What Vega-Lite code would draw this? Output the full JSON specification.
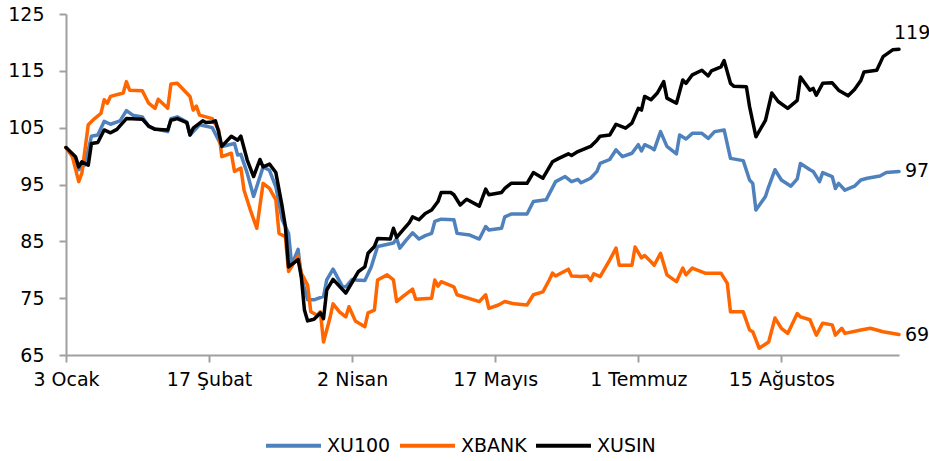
{
  "$schema": "https://vega.github.io/schema/vega-lite/v6.json",
  "width": 833,
  "height": 341,
  "autosize": {"type": "none"},
  "padding": {"left": 66, "top": 14, "right": 30, "bottom": 106},
  "background": "white",
  "config": {
    "view": {"stroke": null},
    "font": "DejaVu Sans",
    "axis": {
      "grid": false,
      "domainColor": "#a0a0a0",
      "domainWidth": 2,
      "tickColor": "#a0a0a0",
      "tickWidth": 2,
      "tickSize": 7,
      "labelFontSize": 19,
      "labelColor": "#000000",
      "labelFont": "DejaVu Sans",
      "title": null
    }
  },
  "data": {
    "values": [
      {"series":"XU100","date":"2020-01-03","value":101.5},
      {"series":"XU100","date":"2020-01-06","value":99.6},
      {"series":"XU100","date":"2020-01-07","value":97.6},
      {"series":"XU100","date":"2020-01-09","value":98.5},
      {"series":"XU100","date":"2020-01-11","value":103.5},
      {"series":"XU100","date":"2020-01-13","value":103.7},
      {"series":"XU100","date":"2020-01-15","value":106.1},
      {"series":"XU100","date":"2020-01-17","value":105.6},
      {"series":"XU100","date":"2020-01-20","value":106.2},
      {"series":"XU100","date":"2020-01-22","value":108.0},
      {"series":"XU100","date":"2020-01-24","value":107.2},
      {"series":"XU100","date":"2020-01-27","value":106.9},
      {"series":"XU100","date":"2020-01-29","value":105.2},
      {"series":"XU100","date":"2020-01-31","value":104.8},
      {"series":"XU100","date":"2020-02-04","value":104.3},
      {"series":"XU100","date":"2020-02-05","value":106.6},
      {"series":"XU100","date":"2020-02-07","value":106.9},
      {"series":"XU100","date":"2020-02-10","value":106.0},
      {"series":"XU100","date":"2020-02-11","value":103.7},
      {"series":"XU100","date":"2020-02-14","value":105.5},
      {"series":"XU100","date":"2020-02-18","value":105.0},
      {"series":"XU100","date":"2020-02-21","value":101.7},
      {"series":"XU100","date":"2020-02-25","value":102.2},
      {"series":"XU100","date":"2020-02-26","value":100.2},
      {"series":"XU100","date":"2020-02-27","value":100.3},
      {"series":"XU100","date":"2020-02-29","value":97.0},
      {"series":"XU100","date":"2020-03-02","value":92.9},
      {"series":"XU100","date":"2020-03-05","value":98.1},
      {"series":"XU100","date":"2020-03-07","value":97.5},
      {"series":"XU100","date":"2020-03-09","value":94.6},
      {"series":"XU100","date":"2020-03-11","value":88.8},
      {"series":"XU100","date":"2020-03-13","value":86.4},
      {"series":"XU100","date":"2020-03-14","value":80.8},
      {"series":"XU100","date":"2020-03-16","value":83.6},
      {"series":"XU100","date":"2020-03-17","value":78.8},
      {"series":"XU100","date":"2020-03-19","value":74.7},
      {"series":"XU100","date":"2020-03-21","value":74.7},
      {"series":"XU100","date":"2020-03-24","value":75.3},
      {"series":"XU100","date":"2020-03-25","value":78.2},
      {"series":"XU100","date":"2020-03-27","value":80.1},
      {"series":"XU100","date":"2020-03-30","value":77.0},
      {"series":"XU100","date":"2020-03-31","value":77.0},
      {"series":"XU100","date":"2020-04-02","value":78.3},
      {"series":"XU100","date":"2020-04-03","value":78.2},
      {"series":"XU100","date":"2020-04-06","value":78.1},
      {"series":"XU100","date":"2020-04-08","value":80.5},
      {"series":"XU100","date":"2020-04-10","value":84.1},
      {"series":"XU100","date":"2020-04-15","value":84.7},
      {"series":"XU100","date":"2020-04-16","value":85.5},
      {"series":"XU100","date":"2020-04-17","value":83.8},
      {"series":"XU100","date":"2020-04-19","value":85.2},
      {"series":"XU100","date":"2020-04-21","value":86.5},
      {"series":"XU100","date":"2020-04-23","value":85.4},
      {"series":"XU100","date":"2020-04-25","value":86.0},
      {"series":"XU100","date":"2020-04-27","value":86.4},
      {"series":"XU100","date":"2020-04-28","value":88.5},
      {"series":"XU100","date":"2020-04-30","value":88.9},
      {"series":"XU100","date":"2020-05-04","value":88.8},
      {"series":"XU100","date":"2020-05-05","value":86.4},
      {"series":"XU100","date":"2020-05-09","value":86.1},
      {"series":"XU100","date":"2020-05-12","value":85.4},
      {"series":"XU100","date":"2020-05-14","value":87.6},
      {"series":"XU100","date":"2020-05-15","value":87.0},
      {"series":"XU100","date":"2020-05-19","value":87.3},
      {"series":"XU100","date":"2020-05-20","value":89.3},
      {"series":"XU100","date":"2020-05-22","value":89.8},
      {"series":"XU100","date":"2020-05-27","value":89.8},
      {"series":"XU100","date":"2020-05-29","value":92.0},
      {"series":"XU100","date":"2020-06-02","value":92.3},
      {"series":"XU100","date":"2020-06-05","value":95.5},
      {"series":"XU100","date":"2020-06-08","value":96.4},
      {"series":"XU100","date":"2020-06-10","value":95.5},
      {"series":"XU100","date":"2020-06-12","value":95.9},
      {"series":"XU100","date":"2020-06-13","value":95.3},
      {"series":"XU100","date":"2020-06-16","value":96.1},
      {"series":"XU100","date":"2020-06-18","value":97.3},
      {"series":"XU100","date":"2020-06-19","value":98.7},
      {"series":"XU100","date":"2020-06-22","value":99.4},
      {"series":"XU100","date":"2020-06-24","value":101.1},
      {"series":"XU100","date":"2020-06-26","value":99.9},
      {"series":"XU100","date":"2020-06-29","value":100.5},
      {"series":"XU100","date":"2020-07-01","value":102.0},
      {"series":"XU100","date":"2020-07-02","value":100.9},
      {"series":"XU100","date":"2020-07-03","value":102.0},
      {"series":"XU100","date":"2020-07-05","value":101.5},
      {"series":"XU100","date":"2020-07-06","value":101.1},
      {"series":"XU100","date":"2020-07-08","value":104.3},
      {"series":"XU100","date":"2020-07-10","value":101.7},
      {"series":"XU100","date":"2020-07-13","value":100.4},
      {"series":"XU100","date":"2020-07-14","value":103.7},
      {"series":"XU100","date":"2020-07-16","value":103.0},
      {"series":"XU100","date":"2020-07-18","value":104.0},
      {"series":"XU100","date":"2020-07-21","value":104.0},
      {"series":"XU100","date":"2020-07-23","value":103.1},
      {"series":"XU100","date":"2020-07-25","value":104.3},
      {"series":"XU100","date":"2020-07-28","value":104.6},
      {"series":"XU100","date":"2020-07-30","value":99.6},
      {"series":"XU100","date":"2020-08-03","value":99.2},
      {"series":"XU100","date":"2020-08-05","value":95.8},
      {"series":"XU100","date":"2020-08-06","value":95.2},
      {"series":"XU100","date":"2020-08-07","value":90.5},
      {"series":"XU100","date":"2020-08-10","value":92.9},
      {"series":"XU100","date":"2020-08-11","value":94.6},
      {"series":"XU100","date":"2020-08-13","value":97.6},
      {"series":"XU100","date":"2020-08-15","value":95.8},
      {"series":"XU100","date":"2020-08-18","value":94.7},
      {"series":"XU100","date":"2020-08-20","value":96.0},
      {"series":"XU100","date":"2020-08-21","value":98.7},
      {"series":"XU100","date":"2020-08-24","value":97.6},
      {"series":"XU100","date":"2020-08-25","value":97.3},
      {"series":"XU100","date":"2020-08-27","value":95.5},
      {"series":"XU100","date":"2020-08-28","value":97.1},
      {"series":"XU100","date":"2020-08-31","value":96.4},
      {"series":"XU100","date":"2020-09-01","value":94.3},
      {"series":"XU100","date":"2020-09-02","value":95.2},
      {"series":"XU100","date":"2020-09-04","value":94.0},
      {"series":"XU100","date":"2020-09-07","value":94.7},
      {"series":"XU100","date":"2020-09-09","value":95.8},
      {"series":"XU100","date":"2020-09-11","value":96.1},
      {"series":"XU100","date":"2020-09-15","value":96.5},
      {"series":"XU100","date":"2020-09-17","value":97.1},
      {"series":"XU100","date":"2020-09-21","value":97.3},

      {"series":"XBANK","date":"2020-01-03","value":101.5},
      {"series":"XBANK","date":"2020-01-05","value":99.9},
      {"series":"XBANK","date":"2020-01-07","value":95.5},
      {"series":"XBANK","date":"2020-01-08","value":97.0},
      {"series":"XBANK","date":"2020-01-10","value":105.5},
      {"series":"XBANK","date":"2020-01-12","value":106.6},
      {"series":"XBANK","date":"2020-01-14","value":107.5},
      {"series":"XBANK","date":"2020-01-15","value":109.9},
      {"series":"XBANK","date":"2020-01-16","value":109.3},
      {"series":"XBANK","date":"2020-01-17","value":110.5},
      {"series":"XBANK","date":"2020-01-21","value":111.1},
      {"series":"XBANK","date":"2020-01-22","value":113.1},
      {"series":"XBANK","date":"2020-01-23","value":111.6},
      {"series":"XBANK","date":"2020-01-27","value":111.5},
      {"series":"XBANK","date":"2020-01-29","value":109.3},
      {"series":"XBANK","date":"2020-01-31","value":108.4},
      {"series":"XBANK","date":"2020-02-01","value":110.0},
      {"series":"XBANK","date":"2020-02-04","value":108.4},
      {"series":"XBANK","date":"2020-02-05","value":112.7},
      {"series":"XBANK","date":"2020-02-07","value":112.8},
      {"series":"XBANK","date":"2020-02-11","value":110.5},
      {"series":"XBANK","date":"2020-02-12","value":108.1},
      {"series":"XBANK","date":"2020-02-13","value":108.8},
      {"series":"XBANK","date":"2020-02-14","value":107.2},
      {"series":"XBANK","date":"2020-02-18","value":106.6},
      {"series":"XBANK","date":"2020-02-20","value":104.6},
      {"series":"XBANK","date":"2020-02-21","value":99.9},
      {"series":"XBANK","date":"2020-02-24","value":100.5},
      {"series":"XBANK","date":"2020-02-25","value":97.3},
      {"series":"XBANK","date":"2020-02-27","value":97.9},
      {"series":"XBANK","date":"2020-02-28","value":94.0},
      {"series":"XBANK","date":"2020-03-01","value":90.5},
      {"series":"XBANK","date":"2020-03-03","value":87.3},
      {"series":"XBANK","date":"2020-03-05","value":95.2},
      {"series":"XBANK","date":"2020-03-07","value":94.3},
      {"series":"XBANK","date":"2020-03-09","value":92.3},
      {"series":"XBANK","date":"2020-03-10","value":86.4},
      {"series":"XBANK","date":"2020-03-12","value":85.8},
      {"series":"XBANK","date":"2020-03-13","value":79.7},
      {"series":"XBANK","date":"2020-03-16","value":82.4},
      {"series":"XBANK","date":"2020-03-17","value":79.4},
      {"series":"XBANK","date":"2020-03-19","value":77.3},
      {"series":"XBANK","date":"2020-03-20","value":72.6},
      {"series":"XBANK","date":"2020-03-22","value":72.0},
      {"series":"XBANK","date":"2020-03-23","value":72.6},
      {"series":"XBANK","date":"2020-03-24","value":67.3},
      {"series":"XBANK","date":"2020-03-26","value":71.5},
      {"series":"XBANK","date":"2020-03-27","value":74.0},
      {"series":"XBANK","date":"2020-03-29","value":72.6},
      {"series":"XBANK","date":"2020-03-31","value":71.7},
      {"series":"XBANK","date":"2020-04-01","value":73.5},
      {"series":"XBANK","date":"2020-04-03","value":71.0},
      {"series":"XBANK","date":"2020-04-05","value":70.3},
      {"series":"XBANK","date":"2020-04-06","value":70.0},
      {"series":"XBANK","date":"2020-04-07","value":72.4},
      {"series":"XBANK","date":"2020-04-09","value":72.9},
      {"series":"XBANK","date":"2020-04-10","value":78.2},
      {"series":"XBANK","date":"2020-04-13","value":79.1},
      {"series":"XBANK","date":"2020-04-15","value":78.2},
      {"series":"XBANK","date":"2020-04-16","value":74.4},
      {"series":"XBANK","date":"2020-04-18","value":75.3},
      {"series":"XBANK","date":"2020-04-21","value":76.6},
      {"series":"XBANK","date":"2020-04-22","value":74.8},
      {"series":"XBANK","date":"2020-04-27","value":75.0},
      {"series":"XBANK","date":"2020-04-28","value":78.2},
      {"series":"XBANK","date":"2020-04-29","value":77.1},
      {"series":"XBANK","date":"2020-04-30","value":77.9},
      {"series":"XBANK","date":"2020-05-04","value":77.0},
      {"series":"XBANK","date":"2020-05-05","value":75.6},
      {"series":"XBANK","date":"2020-05-12","value":74.4},
      {"series":"XBANK","date":"2020-05-14","value":75.6},
      {"series":"XBANK","date":"2020-05-15","value":73.2},
      {"series":"XBANK","date":"2020-05-18","value":73.8},
      {"series":"XBANK","date":"2020-05-20","value":74.4},
      {"series":"XBANK","date":"2020-05-23","value":74.0},
      {"series":"XBANK","date":"2020-05-27","value":73.8},
      {"series":"XBANK","date":"2020-05-29","value":75.6},
      {"series":"XBANK","date":"2020-06-01","value":76.1},
      {"series":"XBANK","date":"2020-06-03","value":78.2},
      {"series":"XBANK","date":"2020-06-04","value":79.4},
      {"series":"XBANK","date":"2020-06-05","value":78.9},
      {"series":"XBANK","date":"2020-06-09","value":80.1},
      {"series":"XBANK","date":"2020-06-10","value":78.9},
      {"series":"XBANK","date":"2020-06-13","value":78.8},
      {"series":"XBANK","date":"2020-06-15","value":78.9},
      {"series":"XBANK","date":"2020-06-16","value":78.1},
      {"series":"XBANK","date":"2020-06-17","value":79.3},
      {"series":"XBANK","date":"2020-06-19","value":78.8},
      {"series":"XBANK","date":"2020-06-22","value":81.7},
      {"series":"XBANK","date":"2020-06-24","value":83.8},
      {"series":"XBANK","date":"2020-06-25","value":80.8},
      {"series":"XBANK","date":"2020-06-29","value":80.8},
      {"series":"XBANK","date":"2020-06-30","value":84.0},
      {"series":"XBANK","date":"2020-07-02","value":82.1},
      {"series":"XBANK","date":"2020-07-03","value":82.5},
      {"series":"XBANK","date":"2020-07-05","value":81.4},
      {"series":"XBANK","date":"2020-07-06","value":80.8},
      {"series":"XBANK","date":"2020-07-08","value":82.9},
      {"series":"XBANK","date":"2020-07-10","value":79.1},
      {"series":"XBANK","date":"2020-07-13","value":77.9},
      {"series":"XBANK","date":"2020-07-15","value":80.3},
      {"series":"XBANK","date":"2020-07-16","value":79.1},
      {"series":"XBANK","date":"2020-07-18","value":80.3},
      {"series":"XBANK","date":"2020-07-22","value":79.4},
      {"series":"XBANK","date":"2020-07-27","value":79.4},
      {"series":"XBANK","date":"2020-07-29","value":77.6},
      {"series":"XBANK","date":"2020-07-30","value":72.6},
      {"series":"XBANK","date":"2020-08-03","value":72.6},
      {"series":"XBANK","date":"2020-08-05","value":69.4},
      {"series":"XBANK","date":"2020-08-06","value":69.1},
      {"series":"XBANK","date":"2020-08-08","value":66.2},
      {"series":"XBANK","date":"2020-08-11","value":67.3},
      {"series":"XBANK","date":"2020-08-13","value":71.5},
      {"series":"XBANK","date":"2020-08-15","value":69.7},
      {"series":"XBANK","date":"2020-08-17","value":68.8},
      {"series":"XBANK","date":"2020-08-20","value":72.3},
      {"series":"XBANK","date":"2020-08-21","value":71.7},
      {"series":"XBANK","date":"2020-08-24","value":71.2},
      {"series":"XBANK","date":"2020-08-26","value":68.5},
      {"series":"XBANK","date":"2020-08-28","value":70.6},
      {"series":"XBANK","date":"2020-08-31","value":70.3},
      {"series":"XBANK","date":"2020-09-01","value":68.5},
      {"series":"XBANK","date":"2020-09-03","value":69.7},
      {"series":"XBANK","date":"2020-09-04","value":68.8},
      {"series":"XBANK","date":"2020-09-09","value":69.4},
      {"series":"XBANK","date":"2020-09-12","value":69.7},
      {"series":"XBANK","date":"2020-09-16","value":69.1},
      {"series":"XBANK","date":"2020-09-21","value":68.6},

      {"series":"XUSIN","date":"2020-01-03","value":101.5},
      {"series":"XUSIN","date":"2020-01-06","value":99.9},
      {"series":"XUSIN","date":"2020-01-07","value":98.1},
      {"series":"XUSIN","date":"2020-01-08","value":99.0},
      {"series":"XUSIN","date":"2020-01-10","value":98.4},
      {"series":"XUSIN","date":"2020-01-11","value":102.2},
      {"series":"XUSIN","date":"2020-01-13","value":102.4},
      {"series":"XUSIN","date":"2020-01-15","value":104.6},
      {"series":"XUSIN","date":"2020-01-17","value":104.1},
      {"series":"XUSIN","date":"2020-01-19","value":104.7},
      {"series":"XUSIN","date":"2020-01-22","value":106.6},
      {"series":"XUSIN","date":"2020-01-27","value":106.5},
      {"series":"XUSIN","date":"2020-01-29","value":105.3},
      {"series":"XUSIN","date":"2020-01-31","value":104.7},
      {"series":"XUSIN","date":"2020-02-04","value":104.6},
      {"series":"XUSIN","date":"2020-02-05","value":106.3},
      {"series":"XUSIN","date":"2020-02-07","value":106.6},
      {"series":"XUSIN","date":"2020-02-10","value":105.9},
      {"series":"XUSIN","date":"2020-02-11","value":103.7},
      {"series":"XUSIN","date":"2020-02-12","value":104.9},
      {"series":"XUSIN","date":"2020-02-15","value":106.2},
      {"series":"XUSIN","date":"2020-02-16","value":105.9},
      {"series":"XUSIN","date":"2020-02-18","value":106.0},
      {"series":"XUSIN","date":"2020-02-19","value":106.2},
      {"series":"XUSIN","date":"2020-02-20","value":104.3},
      {"series":"XUSIN","date":"2020-02-21","value":101.7},
      {"series":"XUSIN","date":"2020-02-24","value":103.5},
      {"series":"XUSIN","date":"2020-02-26","value":102.8},
      {"series":"XUSIN","date":"2020-02-27","value":103.5},
      {"series":"XUSIN","date":"2020-02-29","value":99.3},
      {"series":"XUSIN","date":"2020-03-02","value":96.4},
      {"series":"XUSIN","date":"2020-03-04","value":99.4},
      {"series":"XUSIN","date":"2020-03-05","value":98.1},
      {"series":"XUSIN","date":"2020-03-07","value":98.6},
      {"series":"XUSIN","date":"2020-03-09","value":97.1},
      {"series":"XUSIN","date":"2020-03-11","value":91.1},
      {"series":"XUSIN","date":"2020-03-12","value":87.6},
      {"series":"XUSIN","date":"2020-03-13","value":80.5},
      {"series":"XUSIN","date":"2020-03-16","value":81.8},
      {"series":"XUSIN","date":"2020-03-17","value":78.8},
      {"series":"XUSIN","date":"2020-03-18","value":72.9},
      {"series":"XUSIN","date":"2020-03-19","value":71.0},
      {"series":"XUSIN","date":"2020-03-21","value":71.3},
      {"series":"XUSIN","date":"2020-03-23","value":72.4},
      {"series":"XUSIN","date":"2020-03-24","value":71.4},
      {"series":"XUSIN","date":"2020-03-25","value":76.4},
      {"series":"XUSIN","date":"2020-03-27","value":78.3},
      {"series":"XUSIN","date":"2020-03-31","value":75.9},
      {"series":"XUSIN","date":"2020-04-02","value":77.8},
      {"series":"XUSIN","date":"2020-04-04","value":79.7},
      {"series":"XUSIN","date":"2020-04-06","value":80.5},
      {"series":"XUSIN","date":"2020-04-07","value":82.9},
      {"series":"XUSIN","date":"2020-04-09","value":84.1},
      {"series":"XUSIN","date":"2020-04-10","value":85.5},
      {"series":"XUSIN","date":"2020-04-14","value":85.4},
      {"series":"XUSIN","date":"2020-04-15","value":87.3},
      {"series":"XUSIN","date":"2020-04-16","value":85.7},
      {"series":"XUSIN","date":"2020-04-18","value":87.0},
      {"series":"XUSIN","date":"2020-04-20","value":88.3},
      {"series":"XUSIN","date":"2020-04-21","value":89.3},
      {"series":"XUSIN","date":"2020-04-23","value":88.8},
      {"series":"XUSIN","date":"2020-04-25","value":89.9},
      {"series":"XUSIN","date":"2020-04-27","value":90.5},
      {"series":"XUSIN","date":"2020-04-29","value":92.0},
      {"series":"XUSIN","date":"2020-04-30","value":93.6},
      {"series":"XUSIN","date":"2020-05-03","value":93.6},
      {"series":"XUSIN","date":"2020-05-04","value":93.2},
      {"series":"XUSIN","date":"2020-05-06","value":91.4},
      {"series":"XUSIN","date":"2020-05-08","value":92.4},
      {"series":"XUSIN","date":"2020-05-12","value":91.2},
      {"series":"XUSIN","date":"2020-05-14","value":94.2},
      {"series":"XUSIN","date":"2020-05-15","value":93.2},
      {"series":"XUSIN","date":"2020-05-19","value":93.6},
      {"series":"XUSIN","date":"2020-05-20","value":94.3},
      {"series":"XUSIN","date":"2020-05-22","value":95.2},
      {"series":"XUSIN","date":"2020-05-27","value":95.2},
      {"series":"XUSIN","date":"2020-05-29","value":97.1},
      {"series":"XUSIN","date":"2020-06-01","value":96.1},
      {"series":"XUSIN","date":"2020-06-04","value":99.0},
      {"series":"XUSIN","date":"2020-06-06","value":99.6},
      {"series":"XUSIN","date":"2020-06-09","value":100.4},
      {"series":"XUSIN","date":"2020-06-10","value":100.1},
      {"series":"XUSIN","date":"2020-06-12","value":100.8},
      {"series":"XUSIN","date":"2020-06-16","value":101.7},
      {"series":"XUSIN","date":"2020-06-18","value":102.8},
      {"series":"XUSIN","date":"2020-06-19","value":103.5},
      {"series":"XUSIN","date":"2020-06-22","value":103.7},
      {"series":"XUSIN","date":"2020-06-24","value":105.6},
      {"series":"XUSIN","date":"2020-06-27","value":104.9},
      {"series":"XUSIN","date":"2020-06-29","value":105.8},
      {"series":"XUSIN","date":"2020-07-01","value":108.4},
      {"series":"XUSIN","date":"2020-07-02","value":108.1},
      {"series":"XUSIN","date":"2020-07-03","value":110.5},
      {"series":"XUSIN","date":"2020-07-05","value":109.9},
      {"series":"XUSIN","date":"2020-07-07","value":111.1},
      {"series":"XUSIN","date":"2020-07-09","value":113.1},
      {"series":"XUSIN","date":"2020-07-10","value":110.2},
      {"series":"XUSIN","date":"2020-07-13","value":109.3},
      {"series":"XUSIN","date":"2020-07-15","value":113.4},
      {"series":"XUSIN","date":"2020-07-16","value":112.8},
      {"series":"XUSIN","date":"2020-07-18","value":114.3},
      {"series":"XUSIN","date":"2020-07-21","value":115.1},
      {"series":"XUSIN","date":"2020-07-23","value":114.1},
      {"series":"XUSIN","date":"2020-07-24","value":115.0},
      {"series":"XUSIN","date":"2020-07-27","value":115.7},
      {"series":"XUSIN","date":"2020-07-28","value":116.8},
      {"series":"XUSIN","date":"2020-07-30","value":112.8},
      {"series":"XUSIN","date":"2020-07-31","value":112.3},
      {"series":"XUSIN","date":"2020-08-04","value":112.2},
      {"series":"XUSIN","date":"2020-08-05","value":108.7},
      {"series":"XUSIN","date":"2020-08-07","value":103.4},
      {"series":"XUSIN","date":"2020-08-10","value":106.3},
      {"series":"XUSIN","date":"2020-08-12","value":111.1},
      {"series":"XUSIN","date":"2020-08-14","value":109.6},
      {"series":"XUSIN","date":"2020-08-17","value":108.4},
      {"series":"XUSIN","date":"2020-08-20","value":109.8},
      {"series":"XUSIN","date":"2020-08-21","value":113.9},
      {"series":"XUSIN","date":"2020-08-24","value":111.6},
      {"series":"XUSIN","date":"2020-08-25","value":111.9},
      {"series":"XUSIN","date":"2020-08-26","value":110.7},
      {"series":"XUSIN","date":"2020-08-28","value":112.8},
      {"series":"XUSIN","date":"2020-08-31","value":112.9},
      {"series":"XUSIN","date":"2020-09-02","value":111.6},
      {"series":"XUSIN","date":"2020-09-05","value":110.6},
      {"series":"XUSIN","date":"2020-09-07","value":111.7},
      {"series":"XUSIN","date":"2020-09-09","value":113.3},
      {"series":"XUSIN","date":"2020-09-10","value":114.8},
      {"series":"XUSIN","date":"2020-09-14","value":115.1},
      {"series":"XUSIN","date":"2020-09-16","value":117.5},
      {"series":"XUSIN","date":"2020-09-19","value":118.7},
      {"series":"XUSIN","date":"2020-09-21","value":118.8}
    ]
  },
  "encoding": {
    "x": {
      "field": "date",
      "type": "temporal",
      "scale": {
        "type": "utc",
        "domain": [
          {"year": 2020, "month": 1, "date": 3, "utc": true},
          {"year": 2020, "month": 9, "date": 21, "utc": true}
        ]
      },
      "axis": {
        "values": [
          {"year": 2020, "month": 1, "date": 3, "utc": true},
          {"year": 2020, "month": 2, "date": 17, "utc": true},
          {"year": 2020, "month": 4, "date": 2, "utc": true},
          {"year": 2020, "month": 5, "date": 17, "utc": true},
          {"year": 2020, "month": 7, "date": 1, "utc": true},
          {"year": 2020, "month": 8, "date": 15, "utc": true}
        ],
        "labelExpr": "utcdate(datum.value) + ' ' + ['Ocak','Şubat','Mart','Nisan','Mayıs','Haziran','Temmuz','Ağustos','Eylül','Ekim','Kasım','Aralık'][utcmonth(datum.value)]",
        "labelPadding": 8,
        "labelFlush": false,
        "labelOverlap": false
      }
    },
    "y": {
      "field": "value",
      "type": "quantitative",
      "scale": {"domain": [65, 125], "nice": false, "zero": false},
      "axis": {"values": [65, 75, 85, 95, 105, 115, 125], "labelPadding": 15}
    }
  },
  "layer": [
    {
      "mark": {"type": "line", "strokeWidth": 3.5, "strokeJoin": "round", "strokeCap": "round"},
      "encoding": {
        "color": {
          "field": "series",
          "type": "nominal",
          "scale": {"domain": ["XU100", "XBANK", "XUSIN"], "range": ["#4F81BD", "#FF6600", "#000000"]},
          "legend": {
            "orient": "none",
            "legendX": 198,
            "legendY": 402,
            "direction": "horizontal",
            "title": null,
            "symbolType": "stroke",
            "symbolSize": 3025,
            "symbolStrokeWidth": 4,
            "labelFontSize": 19,
            "labelColor": "#000000",
            "labelOffset": 4,
            "columnPadding": 1
          }
        }
      }
    },
    {
      "transform": [{"filter": "utcmonth(datum.date) == 8 && utcdate(datum.date) == 21 && datum.series == 'XUSIN'"}],
      "mark": {"type": "text", "align": "left", "baseline": "middle", "dx": -5, "dy": -16, "fontSize": 19, "color": "#000000"},
      "encoding": {"text": {"field": "value", "type": "quantitative", "format": ".0f"}}
    },
    {
      "transform": [{"filter": "utcmonth(datum.date) == 8 && utcdate(datum.date) == 21 && datum.series != 'XUSIN'"}],
      "mark": {"type": "text", "align": "left", "baseline": "middle", "dx": 6, "dy": 0, "fontSize": 19, "color": "#000000"},
      "encoding": {"text": {"field": "value", "type": "quantitative", "format": ".0f"}}
    }
  ]
}
